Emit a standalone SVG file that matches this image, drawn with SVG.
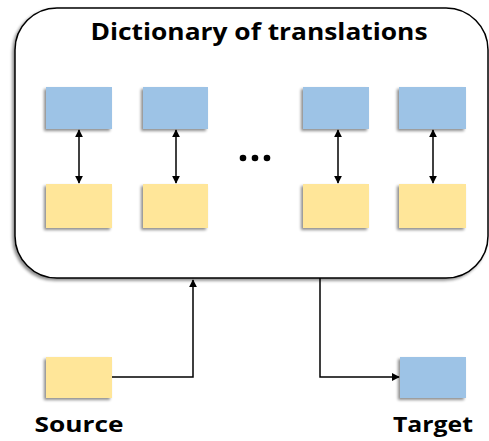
<svg xmlns="http://www.w3.org/2000/svg" width="489" height="441" viewBox="0 0 489 441">
  <style>
    .blue { fill: #9DC3E6; filter: url(#shadow); }
    .yellow { fill: #FFE699; filter: url(#shadow); }
    .link { stroke: #000; stroke-width: 1.5; fill: none; }
    .label { font-family: "Open Sans", "Liberation Sans", sans-serif; font-weight: bold; fill: #000; }
  </style>
  <defs>
    <filter id="shadow" x="-20%" y="-20%" width="140%" height="150%">
      <feGaussianBlur in="SourceAlpha" stdDeviation="1.5"/>
      <feOffset dx="-2" dy="2" result="b"/>
      <feComponentTransfer><feFuncA type="linear" slope="0.45"/></feComponentTransfer>
      <feMerge><feMergeNode/><feMergeNode in="SourceGraphic"/></feMerge>
    </filter>
    <marker id="arrow" viewBox="0 0 10 10" refX="9" refY="5" markerWidth="8" markerHeight="8" markerUnits="userSpaceOnUse" orient="auto-start-reverse">
      <path d="M0,0 L10,5 L0,10 z" fill="#000"/>
    </marker>
  </defs>

  <!-- dictionary container -->
  <g id="dictionary">
    <rect x="15" y="8" width="473" height="270" rx="42" ry="42" fill="#fff" stroke="#000" stroke-width="1.5" filter="url(#shadow)"/>
    <text class="label" x="259" y="40" font-size="24" text-anchor="middle" textLength="337" lengthAdjust="spacingAndGlyphs">Dictionary of translations</text>
  </g>

  <!-- word pairs -->
  <g id="pair1">
    <rect class="blue" x="46" y="87" width="66" height="42"/>
    <rect class="yellow" x="46" y="184" width="66" height="44"/>
  </g>
  <g id="pair2">
    <rect class="blue" x="143" y="87" width="65" height="42"/>
    <rect class="yellow" x="143" y="184" width="65" height="44"/>
  </g>
  <g id="pair3">
    <rect class="blue" x="303" y="87" width="66" height="42"/>
    <rect class="yellow" x="303" y="184" width="66" height="44"/>
  </g>
  <g id="pair4">
    <rect class="blue" x="399" y="87" width="67" height="42"/>
    <rect class="yellow" x="399" y="184" width="67" height="44"/>
  </g>

  <!-- ellipsis -->
  <g id="ellipsis" fill="#000">
    <circle cx="243" cy="158" r="3.3"/>
    <circle cx="255" cy="158" r="3.3"/>
    <circle cx="267" cy="158" r="3.3"/>
  </g>

  <!-- source and target words -->
  <g id="source">
    <rect class="yellow" x="46" y="357" width="66" height="41"/>
    <text class="label" x="79" y="432" font-size="22" text-anchor="middle" textLength="89" lengthAdjust="spacingAndGlyphs">Source</text>
  </g>
  <g id="target">
    <rect class="blue" x="400" y="357" width="66" height="41"/>
    <text class="label" x="433" y="432" font-size="22" text-anchor="middle" textLength="80" lengthAdjust="spacingAndGlyphs">Target</text>
  </g>

  <!-- connectors -->
  <g id="connectors">
    <line class="link" x1="79" y1="130" x2="79" y2="183" marker-start="url(#arrow)" marker-end="url(#arrow)"/>
    <line class="link" x1="176" y1="130" x2="176" y2="183" marker-start="url(#arrow)" marker-end="url(#arrow)"/>
    <line class="link" x1="338" y1="130" x2="338" y2="183" marker-start="url(#arrow)" marker-end="url(#arrow)"/>
    <line class="link" x1="433" y1="130" x2="433" y2="183" marker-start="url(#arrow)" marker-end="url(#arrow)"/>
    <polyline class="link" points="112,377 193,377 193,280" marker-end="url(#arrow)"/>
    <polyline class="link" points="320,278 320,377 399,377" marker-end="url(#arrow)"/>
  </g>
</svg>
